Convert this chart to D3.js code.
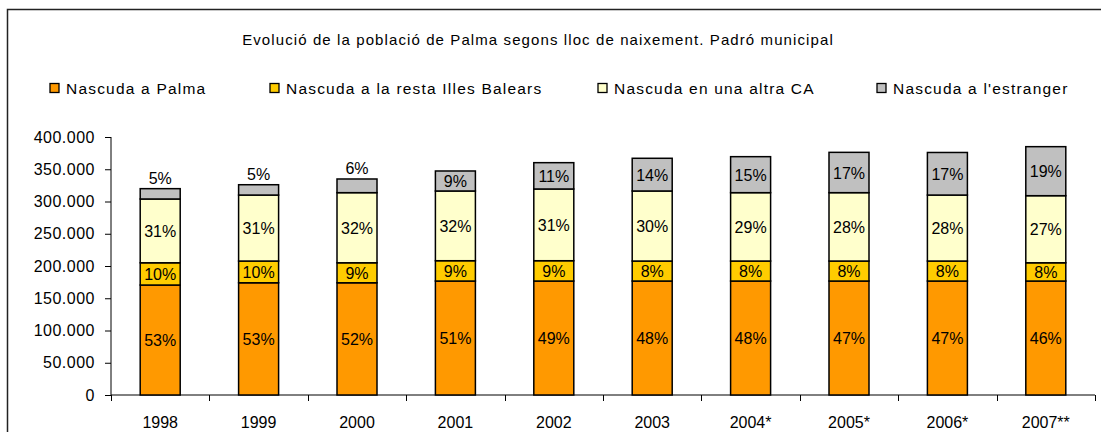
<!DOCTYPE html>
<html>
<head>
<meta charset="utf-8">
<script src="https://cdn.jsdelivr.net/npm/d3@7"></script>
<style>
  html, body { margin: 0; padding: 0; background: #fff; }
  svg { display: block; font-family: "Liberation Sans", Arial, sans-serif; }
</style>
</head>
<body>
<svg id="chart" width="1101" height="432"></svg>
<script>
// Població de Palma segons lloc de naixement (padró), valors llegits del gràfic

const years = ["1998", "1999", "2000", "2001", "2002", "2003", "2004*", "2005*", "2006*", "2007**"];
const seriesNames = ["Nascuda a Palma", "Nascuda a la resta Illes Balears", "Nascuda en una altra CA", "Nascuda a l'estranger"];

const palma     = [170500, 174000, 174000, 176700, 176700, 176700, 176700, 176700, 176700, 176700];
const restaIB   = [34500, 33700, 31000, 31500, 31500, 31000, 31000, 31000, 31000, 28300];
const altraCA   = [98900, 102300, 108700, 108100, 111200, 108600, 106000, 106000, 102300, 104000];
const estranger = [16000, 16000, 21200, 31000, 40800, 50700, 55800, 62500, 66000, 76000];

const pctPalma     = ["53%", "53%", "52%", "51%", "49%", "48%", "48%", "47%", "47%", "46%"];
const pctResta     = ["10%", "10%", "9%", "9%", "9%", "8%", "8%", "8%", "8%", "8%"];
const pctAltraCA   = ["31%", "31%", "32%", "32%", "31%", "30%", "29%", "28%", "28%", "27%"];
const pctEstranger = ["5%", "5%", "6%", "9%", "11%", "14%", "15%", "17%", "17%", "19%"];

const yTicks = [0, 50000, 100000, 150000, 200000, 250000, 300000, 350000, 400000];

const COLORS = ["#FF9900", "#FFCC00", "#FFFFCC", "#C0C0C0"];

// ── layout ───────────────────────────────────────────────────────────────

const svg = d3.select("#chart");
const plot = { left: 111, right: 1095, top: 137, bottom: 395 };

const x = d3.scaleBand().domain(years).range([plot.left, plot.right]).padding(0);
const y = d3.scaleLinear().domain([0, 400000]).range([plot.bottom, plot.top]);
const barW = 40;

// frame
svg.append("path")
  .attr("d", "M7.5,432 L7.5,9.5 L1101,9.5")
  .attr("fill", "none").attr("stroke", "#222").attr("stroke-width", 1.5);

// title
svg.append("text")
  .attr("x", 538).attr("y", 45)
  .attr("text-anchor", "middle")
  .style("font-size", "15px").style("letter-spacing", "1.1px")
  .text("Evolució de la població de Palma segons lloc de naixement. Padró municipal");

// ── legend ───────────────────────────────────────────────────────────────

const legendX = [50, 270, 598, 877];
const legend = svg.append("g");
seriesNames.forEach((name, i) => {
  const g = legend.append("g").attr("transform", `translate(${legendX[i]},83.5)`);
  g.append("rect").attr("width", 9).attr("height", 9)
    .attr("fill", COLORS[i]).attr("stroke", "#000").attr("stroke-width", 1.3);
  g.append("text").attr("x", 16).attr("y", 10)
    .style("font-size", "15.5px").style("letter-spacing", "1.2px")
    .text(name);
});

// ── axes ─────────────────────────────────────────────────────────────────

const fmt = v => d3.format(",")(v).replace(/,/g, ".");

const yAxis = svg.append("g")
  .attr("transform", `translate(${plot.left},0)`)
  .call(d3.axisLeft(y).tickValues(yTicks).tickFormat(fmt).tickSize(6).tickPadding(10));
yAxis.select(".domain").attr("d", `M0,${plot.top}V${plot.bottom}`);
yAxis.selectAll("text").style("font-size", "16px").style("letter-spacing", "0.5px").attr("fill", "#000");

const xAxis = svg.append("g").attr("transform", `translate(0,${plot.bottom})`);
xAxis.append("line")
  .attr("x1", plot.left).attr("x2", plot.right)
  .attr("stroke", "#000").attr("stroke-width", 1);
xAxis.selectAll("line.tick")
  .data(years.concat(["__end"]))
  .join("line").attr("class", "tick")
  .attr("x1", (d, i) => i < years.length ? Math.round(x(d)) + 0.5 : plot.right + 0.5)
  .attr("x2", (d, i) => i < years.length ? Math.round(x(d)) + 0.5 : plot.right + 0.5)
  .attr("y1", 0).attr("y2", 6)
  .attr("stroke", "#000");
xAxis.selectAll("text")
  .data(years)
  .join("text")
  .attr("x", d => x(d) + x.bandwidth() / 2)
  .attr("y", 33)
  .attr("text-anchor", "middle")
  .style("font-size", "16px")
  .text(d => d);

// ── stacked bars ─────────────────────────────────────────────────────────

const rows = years.map((yr, i) => ({
  year: yr,
  s0: palma[i], s1: restaIB[i], s2: altraCA[i], s3: estranger[i],
}));
const stack = d3.stack().keys(["s0", "s1", "s2", "s3"])(rows);
const pcts = [pctPalma, pctResta, pctAltraCA, pctEstranger];

const bars = svg.append("g");
stack.forEach((layer, li) => {
  const g = bars.append("g");
  g.selectAll("rect")
    .data(layer)
    .join("rect")
    .attr("x", d => x(d.data.year) + x.bandwidth() / 2 - barW / 2)
    .attr("y", d => y(d[1]))
    .attr("width", barW)
    .attr("height", d => y(d[0]) - y(d[1]))
    .attr("fill", COLORS[li])
    .attr("stroke", "#000")
    .attr("stroke-width", 1.5);
});

// percentage labels: the small foreign-born segments get their label on top
stack.forEach((layer, li) => {
  bars.append("g").selectAll("text")
    .data(layer)
    .join("text")
    .attr("x", d => x(d.data.year) + x.bandwidth() / 2)
    .attr("y", d => {
      const h = y(d[0]) - y(d[1]);
      if (li === 3 && h < 16) return y(d[1]) - 5;
      return (y(d[0]) + y(d[1])) / 2 + 6;
    })
    .attr("text-anchor", "middle")
    .style("font-size", "16px")
    .text((d, i) => pcts[li][i]);
});
</script>
</body>
</html>
